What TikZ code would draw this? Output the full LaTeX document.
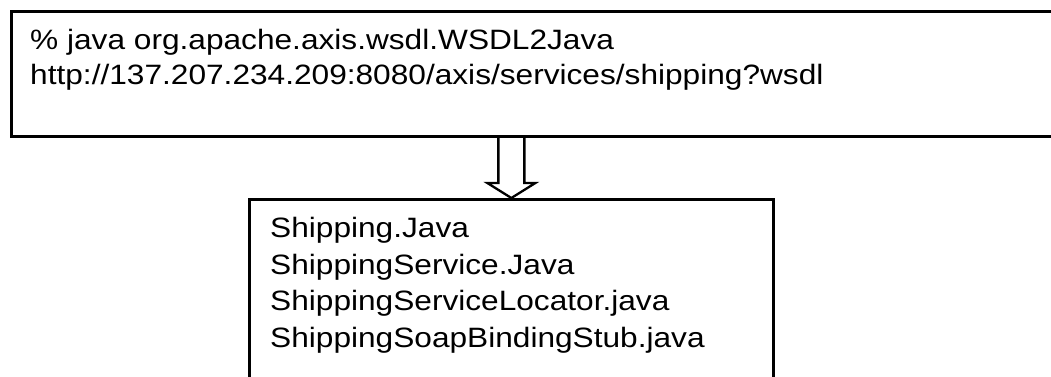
\documentclass[tikz,border=0pt]{standalone}
\usepackage{fontspec}
\usetikzlibrary{calc}
\newfontfamily\hv[FakeStretch=1.13]{Liberation Sans}
\begin{document}
\begin{tikzpicture}[x=1pt,y=-1pt,
  boxstyle/.style={draw=black, line width=2.7pt, rectangle, inner sep=0pt, anchor=north west},
  txtstyle/.style={inner sep=0pt, anchor=north west, align=left},
  hollowarrow/.style={draw=black, line width=2.3pt, line join=miter}
]
\useasboundingbox (0,0) rectangle (1051,376);
\clip (0,0) rectangle (1051,376);
% top command box (its right edge runs off the picture)
\node[boxstyle, minimum width=1070pt, minimum height=125pt] (cmd) at (10,10) {};
\node[txtstyle, font=\hv\fontsize{28}{35}\selectfont] (cmdtext) at (30,29.5)
  {\% java org.apache.axis.wsdl.WSDL2Java\\
   http://137.207.234.209:8080/axis/services/shipping?wsdl};
% generated files box (its bottom edge runs off the picture)
\node[boxstyle, minimum width=524pt, minimum height=220pt] (files) at (248,198) {};
\node[txtstyle, font=\hv\fontsize{28}{36.5}\selectfont] (filestext) at (270,217.5)
  {Shipping.Java\\
   ShippingService.Java\\
   ShippingServiceLocator.java\\
   ShippingSoapBindingStub.java};
% hollow block arrow from the command box to the files box
\coordinate (arrowtop) at (files.north |- cmd.south);
\draw[hollowarrow] ($(arrowtop)+(-13,0)$) -- ($(files.north)+(-13,-15)$)
  -- ($(files.north)+(-24,-15)$) -- (files.north)
  -- ($(files.north)+(24,-15)$) -- ($(files.north)+(13,-15)$)
  -- ($(arrowtop)+(13,0)$);
\end{tikzpicture}
\end{document}
